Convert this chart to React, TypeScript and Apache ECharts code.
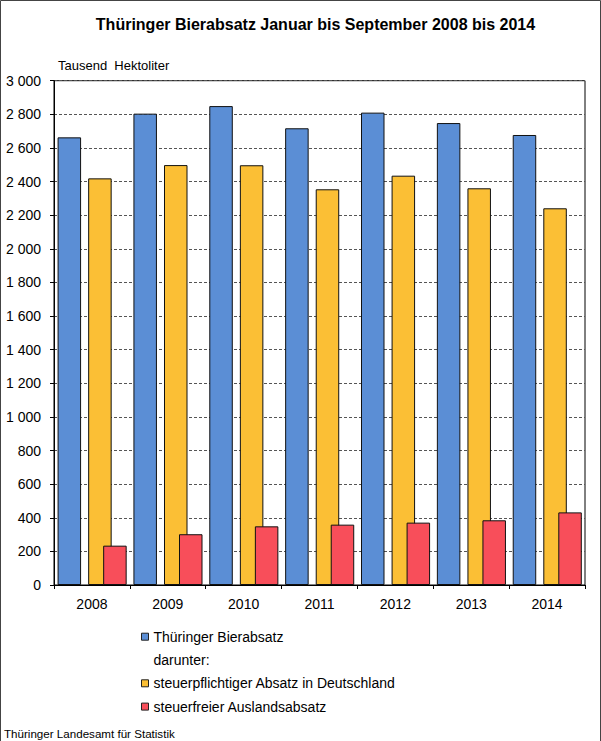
import React, { useEffect, useRef } from "react";
import * as echarts from "echarts";

// ---- data ----
const years = ["2008", "2009", "2010", "2011", "2012", "2013", "2014"];
const totalSales = [2663, 2804, 2849, 2717, 2810, 2748, 2677];
const domesticTaxed = [2419, 2498, 2497, 2354, 2435, 2360, 2241];
const exportTaxFree = [234, 302, 349, 359, 371, 385, 432];
const yMin = 0;
const yMax = 3000;
const yStep = 200;

const nameTotal = "Thüringer Bierabsatz";
const nameSub = "darunter:";
const nameDomestic = "steuerpflichtiger Absatz in Deutschland";
const nameExport = "steuerfreier Auslandsabsatz";

const titleText = "Thüringer Bierabsatz Januar bis September 2008 bis 2014";
const unitText = "Tausend  Hektoliter";
const sourceText = "Thüringer Landesamt für Statistik";

const FONT = "'Liberation Sans', Arial, Helvetica, sans-serif";
const BLUE = "#5B8ED5";
const YELLOW = "#FBBF35";
const RED = "#F84E5A";

const fmt = (v: number) => String(v).replace(/\B(?=(\d{3})+(?!\d))/g, " ");

export default function App() {
  const ref = useRef<HTMLDivElement>(null);

  useEffect(() => {
    if (!ref.current) return;
    const chart = echarts.init(ref.current, undefined, { renderer: "svg" });
    const barBorder = { borderColor: "#111", borderWidth: 1 };
    const overlapGap = "-36.17%";
    chart.setOption({
      animation: false,
      backgroundColor: "#fff",
      textStyle: { fontFamily: FONT },
      grid: {
        left: 54,
        top: 80.7,
        width: 531,
        height: 504.3,
        show: true,
        borderColor: "#000",
        borderWidth: 1,
        backgroundColor: "transparent",
        containLabel: false,
        outerBoundsMode: "none",
      },
      xAxis: [
        {
          type: "category",
          data: years,
          boundaryGap: true,
          axisLine: { show: true, lineStyle: { color: "#000", width: 1 } },
          axisTick: { show: true, length: 4, alignWithLabel: false, interval: 0, lineStyle: { color: "#000" } },
          axisLabel: { fontSize: 14, color: "#000", margin: 12, fontFamily: FONT, interval: 0 },
          splitLine: { show: false },
        },
        {
          type: "category",
          data: years,
          show: false,
        },
      ],
      yAxis: {
        type: "value",
        min: yMin,
        max: yMax,
        interval: yStep,
        axisLine: { show: true, lineStyle: { color: "#000", width: 1 } },
        axisTick: { show: true, length: 4, lineStyle: { color: "#000" } },
        axisLabel: { fontSize: 14, color: "#000", margin: 13, fontFamily: FONT, formatter: (v: number) => fmt(v) },
        splitLine: { show: true, lineStyle: { color: "#555", width: 1, type: [3, 2] } },
      },
      legend: {
        orient: "vertical",
        left: 141,
        top: 628.7,
        padding: 0,
        itemWidth: 7,
        itemHeight: 7,
        itemGap: 7.3,
        selectedMode: false,
        icon: "rect",
        itemStyle: { borderColor: "#222", borderWidth: 1 },
        textStyle: { fontSize: 14, color: "#000", fontFamily: FONT, lineHeight: 16 },
        data: [
          { name: nameTotal },
          { name: nameSub, itemStyle: { opacity: 0 } },
          { name: nameDomestic },
          { name: nameExport },
        ],
      },
      series: [
        {
          type: "bar",
          name: nameTotal,
          xAxisIndex: 0,
          barWidth: 23.5,
          barGap: "0%",
          data: totalSales,
          itemStyle: { color: BLUE, ...barBorder },
        },
        {
          type: "bar",
          name: nameSub,
          xAxisIndex: 0,
          barWidth: 45.2,
          barGap: "0%",
          data: [],
          silent: true,
          itemStyle: { color: "transparent", borderWidth: 0 },
        },
        {
          type: "bar",
          name: "_spacer",
          xAxisIndex: 1,
          barWidth: 48.5,
          barGap: overlapGap,
          data: [],
          silent: true,
          itemStyle: { color: "transparent", borderWidth: 0 },
        },
        {
          type: "bar",
          name: nameDomestic,
          xAxisIndex: 1,
          barWidth: 23.5,
          barGap: overlapGap,
          data: domesticTaxed,
          itemStyle: { color: YELLOW, ...barBorder },
        },
        {
          type: "bar",
          name: nameExport,
          xAxisIndex: 1,
          barWidth: 23.5,
          barGap: overlapGap,
          data: exportTaxFree,
          itemStyle: { color: RED, ...barBorder },
        },
      ],
      graphic: [
        {
          type: "rect",
          z: 100,
          silent: true,
          shape: { x: 0.5, y: 0.5, width: 600, height: 780 },
          style: { fill: "none", stroke: "#444", lineWidth: 1 },
        },
        {
          type: "text",
          style: {
            text: titleText,
            x: 315.5,
            y: 24,
            align: "center",
            verticalAlign: "middle",
            font: `bold 16px ${FONT}`,
            fill: "#000",
          },
        },
        {
          type: "text",
          style: {
            text: unitText,
            x: 58,
            y: 65.7,
            align: "left",
            verticalAlign: "middle",
            font: `13px ${FONT}`,
            fill: "#000",
          },
        },
        {
          type: "text",
          style: {
            text: sourceText,
            x: 4,
            y: 733,
            align: "left",
            verticalAlign: "middle",
            font: `11.6px ${FONT}`,
            fill: "#000",
          },
        },
      ],
    });
    return () => chart.dispose();
  }, []);

  return (
    <div
      ref={ref}
      style={{ position: "fixed", left: 0, top: 0, width: 601, height: 741, background: "#fff" }}
    />
  );
}
